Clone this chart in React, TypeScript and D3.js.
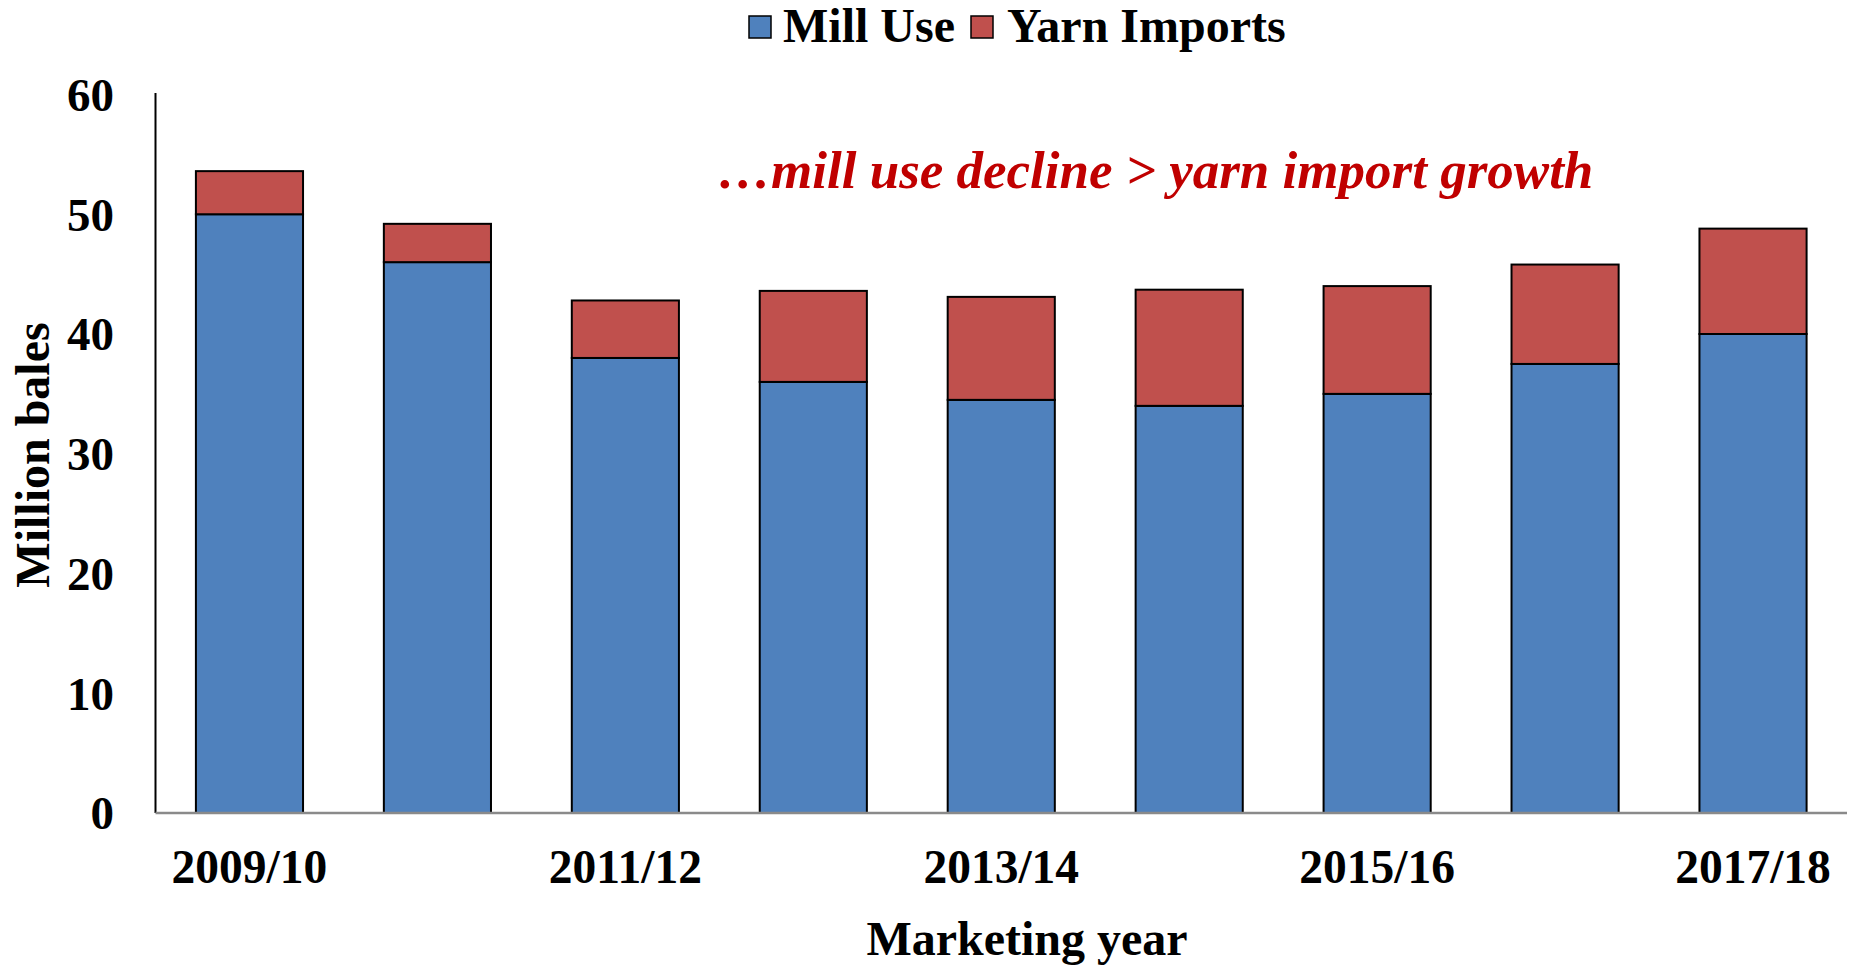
import React, { useEffect } from "react";
import * as d3 from "d3";

const categories = ["2009/10", "2010/11", "2011/12", "2012/13", "2013/14", "2014/15", "2015/16", "2016/17", "2017/18"];
const millUse = [50.0, 46.0, 38.0, 36.0, 34.5, 34.0, 35.0, 37.5, 40.0];
const yarnImports = [3.6, 3.2, 4.8, 7.6, 8.6, 9.7, 9.0, 8.3, 8.8];
const yTicks = [0, 10, 20, 30, 40, 50, 60];
const xTickLabels = ["2009/10", "2011/12", "2013/14", "2015/16", "2017/18"];
const seriesNames = ["Mill Use", "Yarn Imports"];
const seriesColors = ["#4F81BD", "#C0504D"];

const W = 1854;
const H = 966;
const FONT = "'Liberation Serif', 'Times New Roman', serif";

export default function App() {
  useEffect(() => {
    document.body.style.margin = "0";
    document.body.style.overflow = "hidden";
  }, []);

  const left = 155.5;
  const right = 1847;
  const y0 = 813;
  const yTop = 94.5;

  const x = d3.scaleBand<string>().domain(categories).range([left, right]).paddingInner(0.43).paddingOuter(0.215);
  const y = d3.scaleLinear().domain([0, 60]).range([y0, yTop]);

  const rows = categories.map((c, i) => ({ cat: c, mill: millUse[i], yarn: yarnImports[i] }));
  const stacked = d3.stack<any>().keys(["mill", "yarn"])(rows as any);

  return (
    <svg width={W} height={H} style={{ display: "block", background: "#fff" }} fontFamily={FONT}>
      {stacked.map((layer, li) => (
        <g key={li}>
          {layer.map((d: any, i: number) => (
            <rect
              key={i}
              x={x(categories[i])}
              y={y(d[1])}
              width={x.bandwidth()}
              height={y(d[0]) - y(d[1])}
              fill={seriesColors[li]}
              stroke="#000"
              strokeWidth={2}
            />
          ))}
        </g>
      ))}

      <line x1={left} x2={left} y1={93} y2={y0} stroke="#000" strokeWidth={2} />
      <line x1={left} x2={right} y1={y0} y2={y0} stroke="#8a8a8a" strokeWidth={2.5} />

      {yTicks.map((t) => (
        <text key={t} x={114} y={y(t)} dy="0.35em" textAnchor="end" fontSize={47} fontWeight="bold" fill="#000">
          {t}
        </text>
      ))}

      {xTickLabels.map((c) => (
        <text key={c} x={(x(c) as number) + x.bandwidth() / 2} y={883} textAnchor="middle" fontSize={47.5} fontWeight="bold" fill="#000">
          {c}
        </text>
      ))}

      <text x={1027} y={955} textAnchor="middle" fontSize={48} fontWeight="bold" fill="#000">
        Marketing year
      </text>
      <text transform={`translate(49,455) rotate(-90)`} textAnchor="middle" fontSize={48} fontWeight="bold" fill="#000">
        Million bales
      </text>

      <g>
        <rect x={749} y={16} width={22} height={22} fill={seriesColors[0]} stroke="#000" strokeWidth={1.5} />
        <text x={783} y={42} fontSize={48} fontWeight="bold" fill="#000">{seriesNames[0]}</text>
        <rect x={971} y={16} width={22} height={22} fill={seriesColors[1]} stroke="#000" strokeWidth={1.5} />
        <text x={1007} y={42} fontSize={48} fontWeight="bold" fill="#000">{seriesNames[1]}</text>
      </g>

      <text x={718} y={188} fontSize={53} fontWeight="bold" fontStyle="italic" fill="#C00000">
        …mill use decline &gt; yarn import growth
      </text>
    </svg>
  );
}
